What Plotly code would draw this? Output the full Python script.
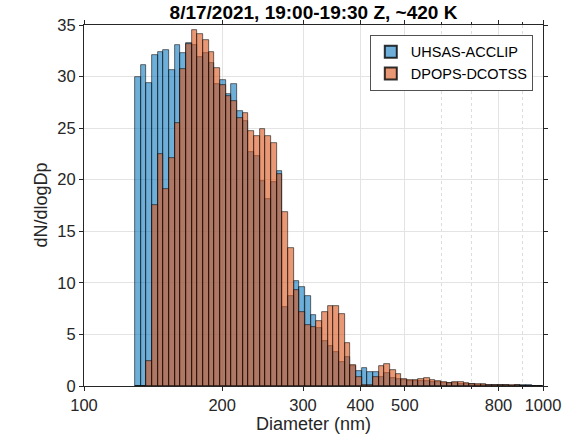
import numpy as np
import plotly.graph_objects as go

# Bins: log-uniform, 81 bins per decade, bins 9..80 (129 nm .. 1000 nm)
bins_per_decade = 81
bin_index = np.arange(9, 81)
log_centers = 2 + (bin_index + 0.5) / bins_per_decade  # log10(diameter / nm)

uhsas = [30.0, 31.1, 29.4, 32.1, 32.4, 32.6, 30.6, 33.1, 32.3, 33.3,
         33.1, 31.9, 32.3, 31.3, 29.3, 29.7, 28.3, 29.3, 26.7, 25.7,
         22.7, 22.3, 19.9, 18.1, 19.8, 20.8, 7.7, 8.75, 10.15, 9.6,
         8.7, 6.9, 5.6, 4.36, 3.88, 3.3, 2.35, 2.85, 1.95, 1.5,
         1.73, 1.38, 1.38, 0.85, 1.28, 0.73, 0.7, 0.55, 0.46, 0.46,
         0.5, 0.45, 0.4, 0.35, 0.3, 0.25, 0.25, 0.2, 0.15, 0.15,
         0.1, 0.1, 0.08, 0.06, 0.05, 0.05, 0.04, 0.08, 0.08, 0.05,
         0.03, 0.02]
dpops = [0.0, 0.0, 2.4, 17.55, 22.46, 19.1, 22.1, 25.5, 30.7, 33.2,
         34.55, 34.1, 33.55, 32.4, 30.8, 29.2, 28.1, 27.6, 25.95, 26.5,
         24.7, 24.2, 24.9, 24.2, 23.6, 20.6, 16.9, 13.4, 9.3, 7.2,
         5.95, 5.75, 6.3, 7.2, 7.8, 7.75, 6.95, 4.17, 2.0, 0.85,
         0.1, 0.1, 0.85, 1.92, 2.18, 1.6, 1.15, 0.7, 0.56, 0.56,
         0.72, 0.73, 0.63, 0.45, 0.4, 0.3, 0.4, 0.35, 0.28, 0.22,
         0.2, 0.15, 0.12, 0.1, 0.1, 0.08, 0.06, 0.05, 0.04, 0.03,
         0.02, 0.02]

xtick_vals = [100, 200, 300, 400, 500, 800, 1000]
xminor_vals = [600, 700, 900]
ytick_vals = [0, 5, 10, 15, 20, 25, 30, 35]

font = "Liberation Sans, Arial, sans-serif"
axis_col = "#262626"
grid_col = "#e3e3e3"

# target plot box in the window: x 84..543, y 25..386
W, H = 569, 441
ml, mt = 84, 25
mr = W - 543
mb = H - 386
pw, ph = W - ml - mr, H - mt - mb

def py(p):
    return (386 - p) / ph

def px(p):
    return (p - 84) / pw

fig = go.Figure()
fig.add_trace(go.Bar(
    x=log_centers, y=uhsas, width=1 / bins_per_decade, name="UHSAS-ACCLIP",
    marker=dict(color="rgba(0,114,189,0.57)", line=dict(color="rgba(0,0,0,0.8)", width=0.7)),
))
fig.add_trace(go.Bar(
    x=log_centers, y=dpops, width=1 / bins_per_decade, name="DPOPS-DCOTSS",
    marker=dict(color="rgba(217,83,25,0.6)", line=dict(color="rgba(0,0,0,0.8)", width=0.7)),
))

fig.update_layout(
    width=W, height=H,
    margin=dict(l=ml, r=mr, t=mt, b=mb, autoexpand=False),
    barmode="overlay", bargap=0,
    paper_bgcolor="white", plot_bgcolor="white",
    font=dict(family=font, size=16, color=axis_col),
    title=dict(text="<b>8/17/2021, 19:00-19:30 Z, ~420 K</b>", x=0.5, xref="paper",
               xanchor="center", y=1 - 12 / H, yanchor="middle",
               font=dict(family=font, size=19, color="black")),
    legend=dict(x=px(533), y=py(35), xanchor="right", yanchor="top",
                bgcolor="white", bordercolor="#262626", borderwidth=0.8,
                font=dict(family=font, size=14.5, color="black"),
                tracegroupgap=0, itemsizing="constant"),
    showlegend=True,
    annotations=[
        dict(text="Diameter (nm)", xref="paper", yref="paper", x=0.5, y=py(424),
             xanchor="center", yanchor="middle", showarrow=False,
             font=dict(family=font, size=18, color=axis_col)),
        dict(text="dN/dlogDp", xref="paper", yref="paper", x=px(40), y=0.5,
             xanchor="center", yanchor="middle", showarrow=False, textangle=-90,
             font=dict(family=font, size=18, color=axis_col)),
    ],
)
fig.update_xaxes(
    type="linear", range=[2, 3], automargin=False,
    tickvals=np.log10(xtick_vals), ticktext=[str(v) for v in xtick_vals],
    ticks="outside", ticklen=4, tickcolor=axis_col,
    showline=True, linecolor=axis_col, linewidth=1, mirror="ticks",
    showgrid=True, gridcolor=grid_col, gridwidth=1,
    minor=dict(tickvals=np.log10(xminor_vals), ticks="outside", ticklen=2, tickcolor=axis_col,
               showgrid=True, gridcolor="#dcdcdc", griddash="dot", gridwidth=1),
    zeroline=False,
    tickfont=dict(family=font, size=16.5, color=axis_col),
)
fig.update_yaxes(
    range=[0, 35], tickvals=ytick_vals, automargin=False,
    ticks="outside", ticklen=4, tickcolor=axis_col,
    showline=True, linecolor=axis_col, linewidth=1, mirror="ticks",
    showgrid=True, gridcolor=grid_col, gridwidth=1, zeroline=False,
    tickfont=dict(family=font, size=16.5, color=axis_col),
)

fig.write_html("out.html",
               config={"displayModeBar": False},
               post_script="document.body.style.margin='0';document.body.style.overflow='hidden';")
